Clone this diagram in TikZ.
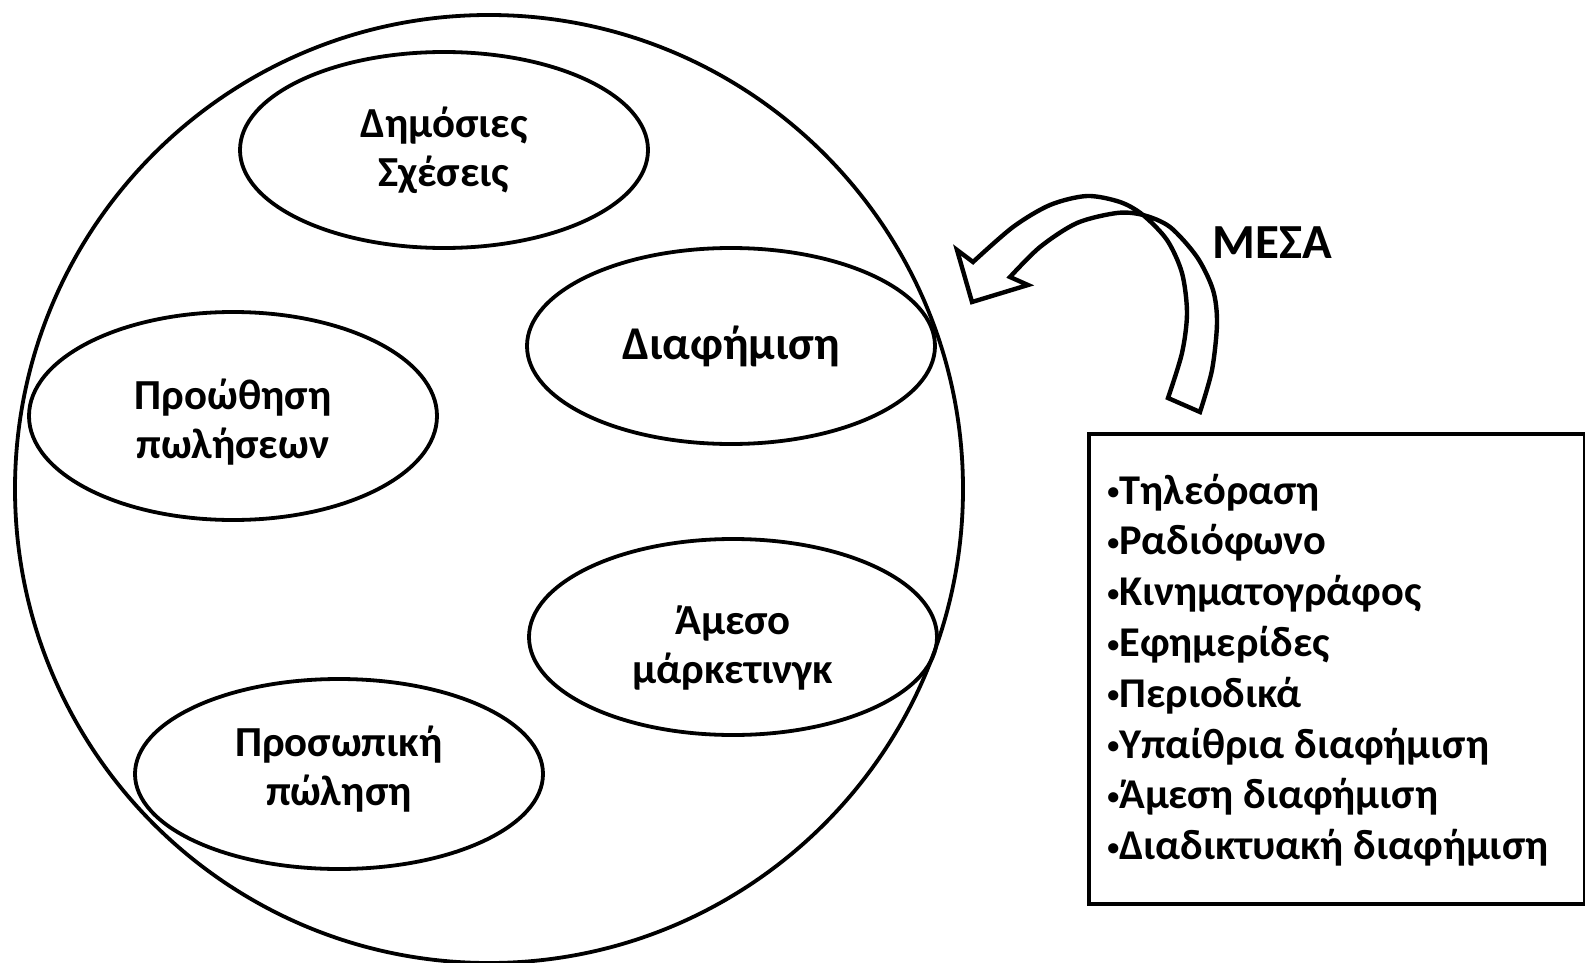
\documentclass[tikz,border=0pt]{standalone}
\usepackage{fontspec}
\setmainfont{Carlito}
\usetikzlibrary{shapes.geometric}
\newcommand\bul{\raisebox{2.2pt}{\fontsize{12}{12}\selectfont•}}

\begin{document}
\begin{tikzpicture}[x=0.5pt,y=-0.5pt,
  tool/.style={draw, line width=1.9pt, ellipse, inner sep=0pt, minimum width=204pt, minimum height=98pt,
    align=center, font=\bfseries\fontsize{21.4}{24.6}\selectfont}]
\useasboundingbox (0,0) rectangle (1585,963);

% Mix
\node[draw, circle, line width=1.9pt, minimum size=474pt] (mix) at (489,489) {};

\node[tool] (pr) at (444,150) {Δημόσιες\\Σχέσεις};
\node[tool, font=\bfseries\fontsize{23.5}{27}\selectfont] (adv) at (731,346) {Διαφήμιση};
\node[tool, minimum height=104pt] (sales) at (233,416) {\rule{0pt}{21pt}Προώθηση\\πωλήσεων};
\node[tool] (direct) at (733,637) {\rule{0pt}{25pt}Άμεσο\\μάρκετινγκ};
\node[tool, minimum height=95pt] (personal) at (339,774) {Προσωπική\\πώληση\rule[-8pt]{0pt}{0pt}};

% Media
\node[font=\bfseries\fontsize{24.5}{28}\selectfont] (means) at (1272,243) {ΜΕΣΑ};
\node[draw, line width=1.9pt, anchor=north west, minimum width=248pt, minimum height=235pt] (media) at (1087,432) {};
\node[anchor=west, align=left, inner sep=0pt, font=\bfseries\fontsize{21.2}{25.4}\selectfont] (list) at (1107,670)
  {\bul Τηλεόραση\\\bul Ραδιόφωνο\\\bul Κινηματογράφος\\\bul Εφημερίδες\\\bul Περιοδικά\\\bul Υπαίθρια διαφήμιση\\\bul Άμεση διαφήμιση\\\bul Διαδικτυακή διαφήμιση};

% Curved arrow
\draw[line width=2.2pt, line join=miter]
  plot[smooth] coordinates {(1168,398) (1182,353) (1187,313) (1182,273) (1167,240) (1143,215) (1120,202) (1087,196) (1050,205) (1013,227) (973,262)}
  -- (957,250) -- (972,302) -- (1028,285)
  -- plot[smooth] coordinates {(1010,277) (1040,247) (1077,223) (1117,213) (1143,215) (1170,227) (1197,257) (1213,290) (1217,323) (1212,370) (1200,412)}
  -- cycle;
\end{tikzpicture}
\end{document}
